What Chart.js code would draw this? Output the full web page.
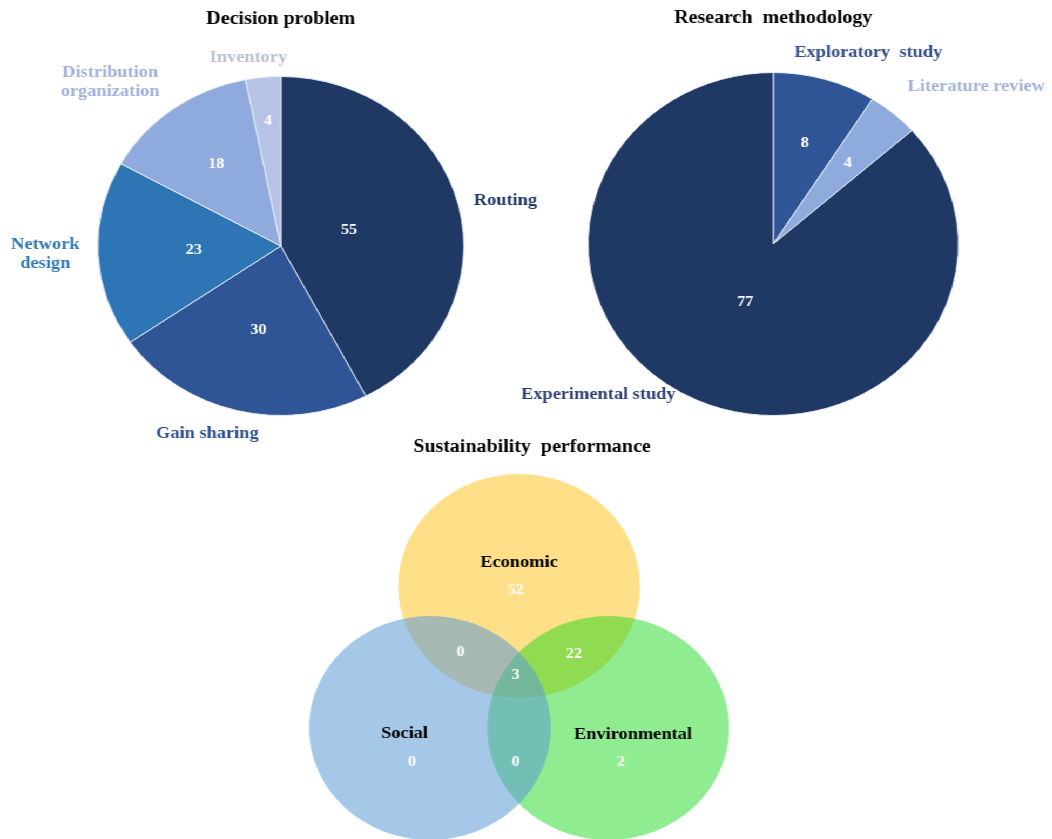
<!DOCTYPE html>
<html>
<head>
<meta charset="utf-8">
<script src="https://cdn.jsdelivr.net/npm/chart.js@4.4.1/dist/chart.umd.min.js"></script>
<style>
  html, body { margin: 0; padding: 0; background: #fff; }
  body { width: 1052px; height: 839px; position: relative; overflow: hidden; }
  /* the original figure is a little wider than tall, so stretch the whole sheet */
  #sheet { position: absolute; left: 0; top: 0; width: 974px; height: 839px; transform: scaleX(1.08); transform-origin: 0 0; }
  canvas { position: absolute; }
  #decision { left: 0; top: 0; }
  #method { left: 470px; top: 0; }
  #venn { left: 260px; top: 430px; }
</style>
</head>
<body>
<div id="sheet">
<canvas id="decision" width="500" height="460"></canvas>
<canvas id="method" width="504" height="460"></canvas>
<canvas id="venn" width="440" height="409"></canvas>
</div>
<script>
// Decision problem
const decisionLabels = ['Routing', 'Gain sharing', 'Network design', 'Distribution organization', 'Inventory'];
const decisionValues = [55, 30, 23, 18, 4];

// Research methodology
const methodLabels = ['Exploratory study', 'Literature review', 'Experimental study'];
const methodValues = [8, 4, 77];

// Sustainability performance (venn)
const vennSets = ['Economic', 'Social', 'Environmental'];
const vennRegions = ['Economic', 'Social', 'Environmental', 'Economic+Social', 'Economic+Environmental', 'Social+Environmental', 'All'];
const vennCounts = [52, 0, 2, 0, 22, 0, 3];

const serif = '"Liberation Serif", "Times New Roman", serif';

// colours
const decisionColors = ['#203864', '#2f5597', '#2e75b6', '#8faadc', '#b4c3e6'];
const decisionTextColors = ['#203864', '#2f4f8f', '#3078b4', '#a3aedb', '#b9c0d6'];
const methodColors = ['#2f5597', '#8faadc', '#203864'];
const methodTextColors = ['#34508c', '#a2b2dc', '#2c3f72'];

// where the outside captions sit, relative to pie centre (px)
const decisionCaptionPos = [[208, -45], [-68, 188], [-218, 8], [-158, -164], [-30, -188]];
const methodCaptionPos = [[88, -191], [188, -157], [-162, 151]];
// value labels distance from centre as share of radius
const decisionValueRadius = [0.385, 0.51, 0.475, 0.6, 0.74];
const methodValueRadius = [0.61, 0.62, 0.37];

const pieText = {
  id: 'pieText',
  afterDraw(chart, args, opts) {
    const ctx = chart.ctx;
    const arcs = chart.getDatasetMeta(0).data;
    const ds = chart.data.datasets[0];
    ctx.save();
    ctx.textAlign = 'center';
    ctx.textBaseline = 'middle';
    // title
    ctx.fillStyle = '#000';
    ctx.font = 'bold 18.5px ' + serif;
    ctx.fillText(opts.title, arcs[0].x, opts.titleY);
    arcs.forEach((arc, i) => {
      const mid = (arc.startAngle + arc.endAngle) / 2;
      const rr = arc.outerRadius * opts.valueRadius[i];
      ctx.fillStyle = '#fff';
      ctx.font = 'bold 15px ' + serif;
      ctx.fillText(String(ds.data[i]), arc.x + Math.cos(mid) * rr, arc.y + Math.sin(mid) * rr);
      // caption
      ctx.fillStyle = opts.textColors[i];
      ctx.font = 'bold 17px ' + serif;
      const lines = opts.lines[i];
      const p = opts.captionPos[i];
      lines.forEach((ln, k) => {
        ctx.fillText(ln, arc.x + p[0], arc.y + p[1] + (k - (lines.length - 1) / 2) * 19);
      });
    });
    ctx.restore();
  }
};

new Chart(document.getElementById('decision'), {
  type: 'pie',
  data: {
    labels: decisionLabels,
    datasets: [{
      data: decisionValues,
      backgroundColor: decisionColors,
      borderColor: '#e8ecf4',
      borderWidth: 1
    }]
  },
  options: {
    responsive: false,
    animation: false,
    layout: { padding: { left: 90, right: 70, top: 76, bottom: 44 } },
    plugins: {
      legend: { display: false },
      tooltip: { enabled: false },
      pieText: {
        title: 'Decision problem',
        titleY: 19,
        textColors: decisionTextColors,
        captionPos: decisionCaptionPos,
        valueRadius: decisionValueRadius,
        lines: [['Routing'], ['Gain sharing'], ['Network', 'design'], ['Distribution', 'organization'], ['Inventory']]
      }
    }
  },
  plugins: [pieText]
});

new Chart(document.getElementById('method'), {
  type: 'pie',
  data: {
    labels: methodLabels,
    datasets: [{
      data: methodValues,
      backgroundColor: methodColors,
      borderColor: '#e8ecf4',
      borderWidth: 1
    }]
  },
  options: {
    responsive: false,
    animation: false,
    layout: { padding: { left: 74, right: 86, top: 72, bottom: 44 } },
    plugins: {
      legend: { display: false },
      tooltip: { enabled: false },
      pieText: {
        title: 'Research  methodology',
        titleY: 18,
        textColors: methodTextColors,
        captionPos: methodCaptionPos,
        valueRadius: methodValueRadius,
        lines: [['Exploratory  study'], ['Literature review'], ['Experimental study']]
      }
    }
  },
  plugins: [pieText]
});

// venn layout: circle centres and where each region's text goes (data units)
const vennCentres = [[0, 1], [-0.825, -0.42], [0.825, -0.42]];
const vennFills = ['rgba(255, 186, 0, 0.47)', 'rgba(91, 155, 213, 0.55)', 'rgba(20, 215, 20, 0.47)'];
const vennStack = [3, 1, 2]; // social on top, then environmental, economic at the bottom
const vennNamePos = [[0, 1.23], [-1.06, -0.48], [1.055, -0.49]];
const vennCountPos = [[-0.03, 0.96], [-0.99, -0.76], [0.944, -0.76], [-0.54, 0.34], [0.51, 0.32], [-0.03, -0.76], [-0.03, 0.11]];

const vennText = {
  id: 'vennText',
  afterDraw(chart) {
    const ctx = chart.ctx;
    const xs = chart.scales.x, ys = chart.scales.y;
    ctx.save();
    ctx.textAlign = 'center';
    ctx.textBaseline = 'middle';
    ctx.fillStyle = '#000';
    ctx.font = 'bold 18.5px ' + serif;
    ctx.fillText('Sustainability  performance', xs.getPixelForValue(0.12), 17);
    ctx.font = 'bold 17px ' + serif;
    vennSets.forEach((s, i) => {
      ctx.fillText(s, xs.getPixelForValue(vennNamePos[i][0]), ys.getPixelForValue(vennNamePos[i][1]));
    });
    ctx.fillStyle = '#fff';
    ctx.font = 'bold 15px ' + serif;
    vennCounts.forEach((c, i) => {
      ctx.fillText(String(c), xs.getPixelForValue(vennCountPos[i][0]), ys.getPixelForValue(vennCountPos[i][1]));
    });
    ctx.restore();
  }
};

new Chart(document.getElementById('venn'), {
  type: 'bubble',
  data: {
    datasets: vennSets.map((s, i) => ({
      label: s,
      data: [{ x: vennCentres[i][0], y: vennCentres[i][1], r: 112 }],
      backgroundColor: vennFills[i],
      borderWidth: 0,
      hoverRadius: 0,
      order: vennStack[i],
      clip: false
    }))
  },
  options: {
    responsive: false,
    animation: false,
    layout: { padding: 0, autoPadding: false },
    scales: {
      x: { type: 'linear', min: -2.206, max: 2.194, display: false },
      y: { type: 'linear', min: -1.53, max: 2.56, display: false }
    },
    plugins: {
      legend: { display: false },
      tooltip: { enabled: false }
    }
  },
  plugins: [vennText]
});
</script>
</body>
</html>
